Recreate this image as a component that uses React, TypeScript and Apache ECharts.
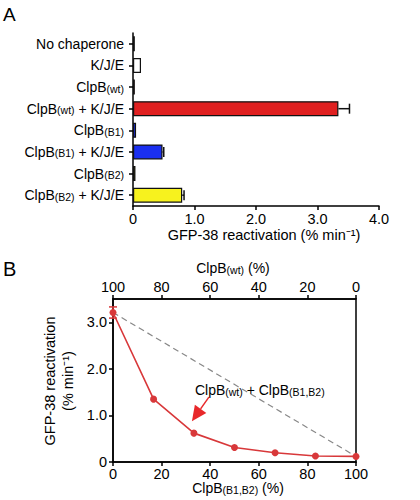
import React, { useEffect, useRef } from 'react';
import * as echarts from 'echarts';

const FONT = '"Liberation Sans", Arial, Helvetica, sans-serif';

// Panel A data
const labelsA = [
  '{n|No chaperone}',
  '{n|K/J/E}',
  '{n|ClpB}{s|(wt)}',
  '{n|ClpB}{s|(wt)}{n| + K/J/E}',
  '{n|ClpB}{s|(B1)}',
  '{n|ClpB}{s|(B1)}{n| + K/J/E}',
  '{n|ClpB}{s|(B2)}',
  '{n|ClpB}{s|(B2)}{n| + K/J/E}',
];
const valuesA = [0.03, 0.13, 0.03, 3.34, 0.05, 0.48, 0.04, 0.8];
const errorsA = [0, 0, 0, 0.18, 0, 0.02, 0, 0.03];
const colorsA = ['#ffffff', '#ffffff', '#e02020', '#e02020', '#1a2ff0', '#1a2ff0', '#f7f21e', '#f7f21e'];

// Panel B data
const mixB = [0, 16.7, 33.3, 50, 66.7, 83.3, 100];
const valuesB = [3.21, 1.35, 0.62, 0.31, 0.2, 0.13, 0.12];
const errorsB = [0.12, 0, 0, 0, 0, 0, 0];

const RED = '#d8383a';

const rich = {
  n: { fontSize: 14, fontFamily: FONT, color: '#000', lineHeight: 14, verticalAlign: 'top' },
  s: { fontSize: 10.5, fontFamily: FONT, color: '#000', lineHeight: 10, verticalAlign: 'bottom', padding: [9, 0, 0, 0] },
};

export default function App() {
  const ref = useRef<HTMLDivElement>(null);
  useEffect(() => {
    if (!ref.current) return;
    const chart = echarts.init(ref.current, undefined, { renderer: 'svg' });
    const fmt = (v: number) => (v === 0 ? '0' : Number.isInteger(v) ? v.toFixed(1) : '');
    const option: any = {
      animation: false,
      backgroundColor: '#fff',
      grid: [
        { left: 133, top: 33, width: 246, height: 173 },
        { left: 113, top: 299, width: 243, height: 163, show: true, borderColor: '#000', borderWidth: 1.5, backgroundColor: 'transparent' },
      ],
      xAxis: [
        {
          gridIndex: 0, type: 'value', min: 0, max: 4, interval: 1,
          axisLine: { show: true, lineStyle: { color: '#000', width: 1.5 } },
          axisTick: { show: true, length: 4, lineStyle: { color: '#000', width: 1.5 } },
          axisLabel: { formatter: fmt, fontSize: 14.5, fontFamily: FONT, color: '#000', margin: 5 },
          splitLine: { show: false },
        },
        {
          gridIndex: 1, type: 'value', min: 0, max: 100, interval: 20, position: 'bottom',
          axisLine: { show: true, lineStyle: { color: '#000', width: 1.5 } },
          axisTick: { show: true, length: 4, lineStyle: { color: '#000', width: 1.5 } },
          axisLabel: { fontSize: 14.5, fontFamily: FONT, color: '#000', margin: 4 },
          splitLine: { show: false },
        },
        {
          gridIndex: 1, type: 'value', min: 0, max: 100, interval: 20, position: 'top', inverse: true,
          axisLine: { show: true, lineStyle: { color: '#000', width: 1.5 } },
          axisTick: { show: true, length: 4, lineStyle: { color: '#000', width: 1.5 } },
          axisLabel: { fontSize: 14.5, fontFamily: FONT, color: '#000', margin: 5 },
          splitLine: { show: false },
        },
      ],
      yAxis: [
        {
          gridIndex: 0, type: 'category', inverse: true, data: labelsA,
          axisLine: { show: true, lineStyle: { color: '#000', width: 1.5 } },
          axisTick: { show: true, length: 4, alignWithLabel: true, lineStyle: { color: '#000', width: 1.5 } },
          axisLabel: { rich, fontSize: 14, fontFamily: FONT, color: '#000', margin: 9, formatter: (v: string) => v },
          splitLine: { show: false },
        },
        {
          gridIndex: 1, type: 'value', min: 0, max: 3.5, interval: 1,
          axisLine: { show: true, lineStyle: { color: '#000', width: 1.5 } },
          axisTick: { show: true, length: 4, lineStyle: { color: '#000', width: 1.5 } },
          axisLabel: { formatter: fmt, fontSize: 14.5, fontFamily: FONT, color: '#000', margin: 6, showMaxLabel: false },
          splitLine: { show: false },
        },
      ],
      series: [
        {
          type: 'bar', xAxisIndex: 0, yAxisIndex: 0, barWidth: 15,
          data: valuesA.map((v, i) => ({ value: v, itemStyle: { color: colorsA[i], borderColor: '#111', borderWidth: 1.2 } })),
        },
        {
          type: 'custom', xAxisIndex: 0, yAxisIndex: 0,
          data: valuesA.map((v, i) => [i, v, v + errorsA[i]]),
          encode: { x: [1, 2], y: 0 },
          renderItem: (params: any, api: any) => {
            const i = api.value(0);
            if (api.value(2) - api.value(1) <= 0) return null;
            const p1 = api.coord([api.value(1), i]);
            const p2 = api.coord([api.value(2), i]);
            const st = { stroke: '#111', lineWidth: 1.5 };
            return {
              type: 'group',
              children: [
                { type: 'line', shape: { x1: p1[0], y1: p1[1], x2: p2[0], y2: p2[1] }, style: st },
                { type: 'line', shape: { x1: p2[0], y1: p2[1] - 5, x2: p2[0], y2: p2[1] + 5 }, style: st },
              ],
            };
          },
          z: 3,
        },
        {
          type: 'line', xAxisIndex: 1, yAxisIndex: 1, symbol: 'none',
          data: [[mixB[0], valuesB[0]], [mixB[mixB.length - 1], valuesB[valuesB.length - 1]]],
          lineStyle: { color: '#888', width: 1.2, type: [6, 4] },
          z: 1,
        },
        {
          type: 'line', xAxisIndex: 1, yAxisIndex: 1, symbol: 'circle', symbolSize: 7, clip: false,
          data: mixB.map((x, i) => [x, valuesB[i]]),
          lineStyle: { color: RED, width: 1.6 },
          itemStyle: { color: RED },
          z: 4,
        },
        {
          type: 'custom', xAxisIndex: 1, yAxisIndex: 1, clip: false,
          data: mixB.map((x, i) => [x, valuesB[i] - errorsB[i], valuesB[i] + errorsB[i]]),
          encode: { x: 0, y: [1, 2] },
          renderItem: (params: any, api: any) => {
            if (api.value(2) - api.value(1) <= 0) return null;
            const x = api.value(0);
            const p1 = api.coord([x, api.value(1)]);
            const p2 = api.coord([x, api.value(2)]);
            const st = { stroke: RED, lineWidth: 1.5 };
            return {
              type: 'group',
              children: [
                { type: 'line', shape: { x1: p1[0], y1: p1[1], x2: p2[0], y2: p2[1] }, style: st },
                { type: 'line', shape: { x1: p1[0] - 4, y1: p1[1], x2: p1[0] + 4, y2: p1[1] }, style: st },
                { type: 'line', shape: { x1: p2[0] - 4, y1: p2[1], x2: p2[0] + 4, y2: p2[1] }, style: st },
              ],
            };
          },
          z: 5,
        },
      ],
    };
    chart.setOption(option);

    const pt = chart.convertToPixel({ xAxisIndex: 1, yAxisIndex: 1 } as any, [mixB[2], valuesB[2]]) as number[];
    const tip = [pt[0] - 2, pt[1] - 12];
    const start = [pt[0] + 15, pt[1] - 36];
    const dx = tip[0] - start[0];
    const dy = tip[1] - start[1];
    const len = Math.sqrt(dx * dx + dy * dy);
    const ux = dx / len;
    const uy = dy / len;
    const headLen = 15;
    const headW = 7;
    const base = [tip[0] - ux * headLen, tip[1] - uy * headLen];
    const arrowColor = '#e8282a';

    chart.setOption({
      graphic: [
        { type: 'text', left: 3, top: 5, style: { text: 'A', font: `19px ${FONT}`, fill: '#000' } },
        { type: 'text', left: 3, top: 259, style: { text: 'B', font: `20px ${FONT}`, fill: '#000' } },
        {
          type: 'text', x: 264, y: 235,
          style: { text: 'GFP-38 reactivation (% min\u207B\u00B9)', font: `14.5px ${FONT}`, fill: '#000', align: 'center', verticalAlign: 'middle' },
        },
        {
          type: 'text', x: 59, y: 381, rotation: Math.PI / 2,
          style: { text: 'GFP-38 reactivation\n(% min\u207B\u00B9)', font: `14.5px ${FONT}`, lineHeight: 18, fill: '#000', align: 'center', verticalAlign: 'middle' },
        },
        {
          type: 'text', x: 233, y: 268,
          style: { text: '{n|ClpB}{s|(wt)}{n| (%)}', rich, align: 'center', verticalAlign: 'middle' },
        },
        {
          type: 'text', x: 238, y: 481,
          style: { text: '{n|ClpB}{s|(B1,B2)}{n| (%)}', rich, align: 'center', verticalAlign: 'top' },
        },
        {
          type: 'text', x: pt[0] + 1, y: pt[1] - 43,
          style: { text: '{n|ClpB}{s|(wt)}{n| + ClpB}{s|(B1,B2)}', rich, align: 'left', verticalAlign: 'middle' },
        },
        {
          type: 'line',
          shape: { x1: start[0], y1: start[1], x2: base[0], y2: base[1] },
          style: { stroke: arrowColor, lineWidth: 1.5 },
        },
        {
          type: 'polygon',
          shape: {
            points: [
              tip,
              [base[0] - uy * headW, base[1] + ux * headW],
              [base[0] + uy * headW, base[1] - ux * headW],
            ],
          },
          style: { fill: arrowColor },
        },
      ],
    });

    return () => chart.dispose();
  }, []);
  return <div ref={ref} style={{ position: 'absolute', left: 0, top: 0, width: 420, height: 500, background: '#fff' }} />;
}
